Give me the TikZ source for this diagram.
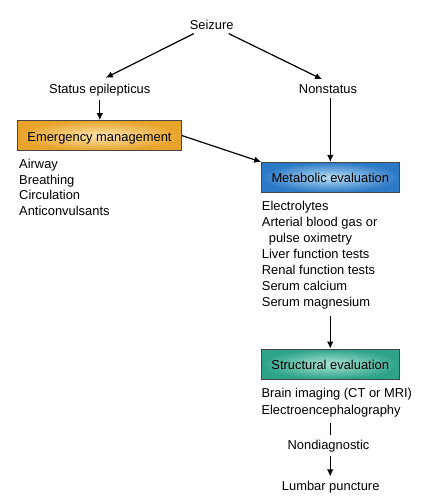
\documentclass[tikz,border=0pt]{standalone}
\usepackage{fontspec}
\setmainfont{Liberation Sans}
\usetikzlibrary{arrows.meta,positioning}
\definecolor{emergout}{HTML}{E8A32B}
\definecolor{emergin}{HTML}{FCE6AC}
\definecolor{metabout}{HTML}{2C79C6}
\definecolor{metabin}{HTML}{B6DEF5}
\definecolor{structout}{HTML}{2EA38A}
\definecolor{structin}{HTML}{AAE3D3}
\tikzset{
  box/.style={draw=gray!55!black, line width=0.7pt, inner sep=0pt, minimum height=30pt, text height=11pt, text depth=0pt},
  emergbox/.style={box, inner color=emergin, outer color=emergout, minimum width=164pt},
  metabbox/.style={box, inner color=metabin, outer color=metabout, minimum width=137.5pt},
  structbox/.style={box, inner color=structin, outer color=structout, minimum width=137.5pt},
  txt/.style={inner sep=4pt, anchor=base},
  itemlist/.style={align=left, inner sep=0pt, anchor=base west},
  line/.style={-{Latex[length=7pt,width=6.5pt]}, line width=1.2pt},
  plainline/.style={line width=1.2pt}
}

\begin{document}
\begin{tikzpicture}[x=1pt, y=-1pt, font=\fontsize{12.9}{15.8}\selectfont]
  \useasboundingbox (0,0) rectangle (434,500);
  \node[txt] (seizure) at (211.7,29.3) {Seizure};
  \node[txt] (status) at (99.8,93.3) {Status epilepticus};
  \node[txt] (nonstatus) at (328,93.3) {Nonstatus};
  \node[emergbox] (emerg) at (99.5,135.5) {Emergency management};
  % lists are placed by the baseline of their last line
  \node[itemlist] (emerglist) at (19,215.7) {Airway\\Breathing\\Circulation\\Anticonvulsants};
  \node[metabbox] (metab) at (330.3,177.3) {Metabolic evaluation};
  \node[itemlist, font=\fontsize{12.9}{15.9}\selectfont] (metablist) at (261.7,306.3) {Electrolytes\\Arterial blood gas or\\\hspace*{7pt}pulse oximetry\\Liver function tests\\Renal function tests\\Serum calcium\\Serum magnesium};
  \node[structbox] (struct) at (330.2,364) {Structural evaluation};
  \node[itemlist, font=\fontsize{12.9}{16.3}\selectfont] (structlist) at (261.3,414) {Brain imaging (CT or MRI)\\Electroencephalography};
  \node[txt] (nondiag) at (328.5,449) {Nondiagnostic};
  \node[txt] (lumbar) at (330.7,490) {Lumbar puncture};
  \draw[line] ([xshift=-18pt]seizure.south) -- ([xshift=6pt,yshift=2pt]status.north);
  \draw[line] ([xshift=17pt]seizure.south) -- ([xshift=-6pt,yshift=1pt]nonstatus.north);
  \draw[line] (status.south) -- (status.south |- emerg.north);
  \draw[line] (metab.north |- nonstatus.south) -- (metab.north);
  \draw[line] (emerg.east) -- (metab.north west);
  \draw[line] ([yshift=-7pt]metablist.south -| struct.north) -- (struct.north);
  \draw[plainline] ([yshift=-6.6pt]structlist.south -| struct.north) -- (nondiag.north -| struct.north);
  \draw[line] (nondiag.south -| struct.north) -- (lumbar.north -| struct.north);
\end{tikzpicture}
\end{document}
